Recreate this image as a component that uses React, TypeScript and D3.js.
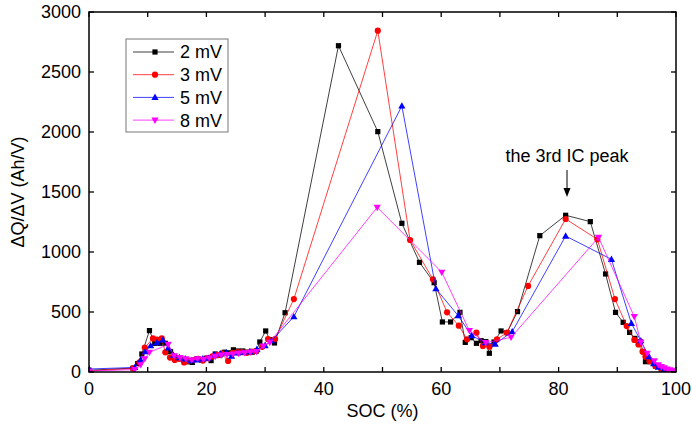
import React from "react";
import * as d3 from "d3";

// ---- data ----
const soc2 = [0, 7.5, 8.3, 9.0, 10.3, 11.2, 12.1, 13.0, 13.9, 14.6, 15.3, 16.1, 16.9, 17.6, 18.4, 19.2, 20.0, 20.8, 21.5, 22.3, 23.1, 23.9, 24.6, 25.4, 26.2, 27.0, 27.8, 28.5, 29.1, 30.1, 30.8, 31.6, 33.4, 42.5, 49.2, 53.3, 56.3, 58.8, 60.2, 61.6, 63.2, 64.1, 65.1, 66.0, 66.8, 67.6, 68.2, 69.0, 70.2, 71.2, 73.0, 76.8, 81.2, 85.4, 88.0, 89.7, 91.0, 92.1, 93.0, 93.9, 94.4, 94.8, 95.6, 96.5, 97.5, 99, 100];
const val2 = [15, 32, 70, 150, 345, 239, 239, 239, 169, 130, 120, 100, 85, 80, 110, 100, 115, 95, 150, 140, 165, 160, 185, 175, 175, 165, 165, 175, 250, 342, 270, 242, 494, 2719, 2003, 1239, 914, 744, 417, 417, 497, 247, 286, 239, 261, 253, 156, 250, 342, 328, 503, 1136, 1306, 1253, 817, 497, 414, 330, 280, 253, 169, 86, 86, 50, 25, 10, 5];

const soc3 = [0, 7.5, 8.6, 9.5, 10.9, 11.6, 12.4, 13.0, 13.8, 14.6, 15.4, 16.2, 17.0, 17.8, 18.6, 19.4, 20.2, 21.0, 21.8, 22.6, 23.7, 24.5, 25.3, 26.1, 26.9, 27.7, 28.5, 29.5, 30.5, 31.7, 34.9, 49.2, 54.7, 58.6, 61.0, 63.0, 64.4, 66.0, 67.1, 68.2, 69.5, 71.2, 74.8, 81.2, 86.6, 89.6, 91.6, 92.9, 93.6, 94.3, 94.8, 95.5, 96.5, 97.5, 99, 100];
const val3 = [10, 30, 80, 203, 280, 270, 280, 164, 120, 100, 110, 80, 95, 100, 110, 95, 115, 130, 140, 155, 92, 160, 165, 165, 160, 170, 175, 210, 275, 275, 608, 2844, 1100, 772, 497, 386, 272, 328, 217, 211, 272, 328, 717, 1275, 1106, 608, 383, 267, 230, 170, 128, 90, 50, 25, 10, 3];

const soc5 = [0, 7.8, 8.8, 9.6, 10.5, 11.6, 12.6, 13.5, 14.4, 15.4, 16.4, 17.4, 18.4, 19.4, 20.4, 21.4, 22.4, 23.4, 24.3, 25.3, 26.3, 27.4, 28.6, 30.0, 31.1, 34.9, 53.3, 59.1, 62.9, 65.2, 67.5, 69.2, 72.1, 81.2, 89.0, 92.4, 94.0, 95.4, 96.2, 97, 98, 100];
const val5 = [25, 38, 100, 170, 219, 245, 267, 200, 140, 120, 110, 95, 100, 110, 115, 140, 150, 160, 133, 160, 165, 170, 189, 220, 261, 461, 2217, 694, 469, 303, 244, 233, 336, 1133, 939, 405, 261, 128, 70, 40, 20, 5];

const soc8 = [0, 7.8, 8.8, 9.5, 10.3, 13.5, 14.5, 15.5, 16.5, 17.5, 18.5, 19.5, 20.5, 21.5, 22.5, 23.5, 24.5, 25.5, 26.5, 27.5, 28.5, 29.7, 30.8, 49.1, 60.1, 64.8, 67.6, 71.9, 86.8, 92.9, 94.0, 95.1, 96.3, 97, 97.5, 98, 98.5, 99, 99.5, 100];
const val8 = [8, 20, 60, 110, 164, 230, 135, 120, 110, 100, 110, 105, 115, 130, 140, 145, 150, 155, 160, 165, 170, 215, 247, 1372, 831, 344, 244, 289, 1122, 461, 250, 156, 92, 60, 45, 35, 25, 18, 10, 5];

const seriesNames = ["2 mV", "3 mV", "5 mV", "8 mV"];
const seriesColors = ["#000000", "#ff0000", "#0000ff", "#ff00ff"];
const seriesShapes = ["square", "circle", "up", "down"];
const seriesX = [soc2, soc3, soc5, soc8];
const seriesY = [val2, val3, val5, val8];

const xTicks = [0, 20, 40, 60, 80, 100];
const xMinorTicks = [0, 10, 20, 30, 40, 50, 60, 70, 80, 90, 100];
const yTicks = [0, 500, 1000, 1500, 2000, 2500, 3000];

const W = 692;
const H = 432;
const L = 89, R = 676, T = 12, B = 372;
const FONT = "'Liberation Sans', Arial, sans-serif";

function Marker({ shape, x, y, color }: { shape: string; x: number; y: number; color: string }) {
  if (shape === "square") return <rect x={x - 2.6} y={y - 2.6} width={5.2} height={5.2} fill={color} />;
  if (shape === "circle") return <circle cx={x} cy={y} r={3.1} fill={color} />;
  if (shape === "up") return <path d={`M${x},${y - 3.8}L${x + 3.6},${y + 2.6}L${x - 3.6},${y + 2.6}Z`} fill={color} />;
  return <path d={`M${x},${y + 3.8}L${x + 3.6},${y - 2.6}L${x - 3.6},${y - 2.6}Z`} fill={color} />;
}

export default function App() {
  const x = d3.scaleLinear().domain([0, 100]).range([L, R]);
  const y = d3.scaleLinear().domain([0, 3000]).range([B, T]);
  const line = d3.line<[number, number]>().x((d) => x(d[0])).y((d) => y(d[1]));
  const tickLen = 5;

  return (
    <svg width={W} height={H} style={{ position: "absolute", left: 0, top: 0, background: "#fff" }} fontFamily={FONT}>
      <defs>
        <clipPath id="plotclip">
          <rect x={L} y={T} width={R - L} height={B - T} />
        </clipPath>
      </defs>
      <rect x={0} y={0} width={W} height={H} fill="#fff" />
      <g clipPath="url(#plotclip)">
        {seriesX.map((xs, i) => {
          const pts = xs.map((v, j) => [v, seriesY[i][j]] as [number, number]);
          return (
            <g key={i}>
              <path d={line(pts) || ""} fill="none" stroke={seriesColors[i]} strokeWidth={1} strokeOpacity={0.75} />
              {pts.map((p, j) => (
                <Marker key={j} shape={seriesShapes[i]} x={x(p[0])} y={y(p[1])} color={seriesColors[i]} />
              ))}
            </g>
          );
        })}
      </g>
      {/* frame */}
      <rect x={L} y={T} width={R - L} height={B - T} fill="none" stroke="#000" strokeWidth={1.5} />
      {xMinorTicks.map((t) => (
        <g key={"xt" + t}>
          <line x1={x(t)} x2={x(t)} y1={B} y2={B - tickLen} stroke="#000" strokeWidth={1.3} />
          <line x1={x(t)} x2={x(t)} y1={T} y2={T + tickLen} stroke="#000" strokeWidth={1.3} />
        </g>
      ))}
      {yTicks.map((t) => (
        <g key={"yt" + t}>
          <line x1={L} x2={L + tickLen} y1={y(t)} y2={y(t)} stroke="#000" strokeWidth={1.3} />
          <line x1={R} x2={R - tickLen} y1={y(t)} y2={y(t)} stroke="#000" strokeWidth={1.3} />
          <text x={L - 8} y={y(t)} dy="0.36em" textAnchor="end" fontSize={18} fill="#000">{t}</text>
        </g>
      ))}
      {xTicks.map((t) => (
        <text key={"xl" + t} x={x(t)} y={395} textAnchor="middle" fontSize={18} fill="#000">{t}</text>
      ))}
      <text x={(L + R) / 2} y={417} textAnchor="middle" fontSize={18} fill="#000">SOC (%)</text>
      <text transform={`translate(24,${(T + B) / 2}) rotate(-90)`} textAnchor="middle" fontSize={18} fill="#000">ΔQ/ΔV (Ah/V)</text>
      {/* legend */}
      <rect x={126} y={39} width={102} height={93} fill="#fff" stroke="#777" strokeWidth={1} />
      {seriesNames.map((n, i) => {
        const ly = 52 + i * 22.7;
        return (
          <g key={"lg" + i}>
            <line x1={133} x2={174} y1={ly} y2={ly} stroke={seriesColors[i]} strokeWidth={1} strokeOpacity={0.75} />
            <Marker shape={seriesShapes[i]} x={155} y={ly} color={seriesColors[i]} />
            <text x={180} y={ly} dy="0.36em" fontSize={18} fill="#000">{n}</text>
          </g>
        );
      })}
      {/* annotation */}
      <text x={567} y={162} textAnchor="middle" fontSize={18} fill="#000">the 3rd IC peak</text>
      <line x1={567} x2={567} y1={170} y2={190} stroke="#000" strokeWidth={1} />
      <path d="M563.5,188L570.5,188L567,197Z" fill="#000" />
    </svg>
  );
}
